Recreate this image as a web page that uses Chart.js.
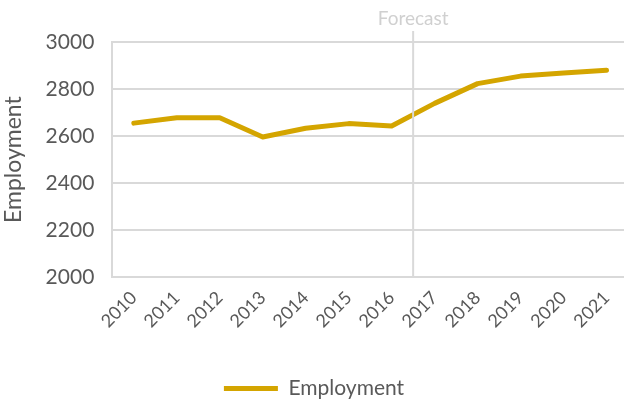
<!DOCTYPE html>
<html>
<head>
<meta charset="utf-8">
<script src="https://cdn.jsdelivr.net/npm/chart.js@4"></script>
<style>
  html, body { margin: 0; padding: 0; background: #fff; overflow: hidden; }
  /* plot runs off the right edge in the original, so the canvas is a bit wider than the window */
  #wrap { width: 628px; height: 401px; }
</style>
</head>
<body>
<div id="wrap"><canvas id="employmentChart"></canvas></div>
<script>
// Data
const years = ['2010', '2011', '2012', '2013', '2014', '2015', '2016', '2017', '2018', '2019', '2020', '2021'];
const employment = [2655, 2678, 2678, 2596, 2633, 2653, 2643, 2739, 2823, 2855, 2868, 2880];
const forecastFrom = '2017';

const textGray = '#595959';
const gridGray = '#d9d9d9';
const gold = '#d4a500';
const fontFamily = 'Lato, "Open Sans", sans-serif';

// Vertical line + "Forecast" label between the last actual and the first forecast year
const forecastMarker = {
    id: 'forecastMarker',
    afterDraw(chart) {
        const x = chart.scales.x;
        const idx = years.indexOf(forecastFrom);
        const px = (x.getPixelForValue(idx - 1) + x.getPixelForValue(idx)) / 2;
        const ctx = chart.ctx;
        ctx.save();
        ctx.strokeStyle = gridGray;
        ctx.lineWidth = 2;
        ctx.beginPath();
        ctx.moveTo(px, chart.chartArea.top - 11);
        ctx.lineTo(px, chart.chartArea.bottom);
        ctx.stroke();
        ctx.fillStyle = '#d0d0d0';
        ctx.font = '19px ' + fontFamily;
        ctx.textAlign = 'center';
        ctx.textBaseline = 'middle';
        ctx.fillText('Forecast', px, chart.chartArea.top - 23);
        ctx.restore();
    }
};

new Chart(document.getElementById('employmentChart'), {
    type: 'line',
    data: {
        labels: years,
        datasets: [{
            label: 'Employment',
            data: employment,
            borderColor: gold,
            backgroundColor: gold,
            borderWidth: 5,
            borderCapStyle: 'round',
            borderJoinStyle: 'round',
            pointRadius: 0,
            tension: 0
        }]
    },
    options: {
        responsive: true,
        maintainAspectRatio: false,
        animation: false,
        layout: { padding: { top: 42, right: 0, left: 0, bottom: -8 } },
        plugins: {
            legend: {
                position: 'bottom',
                labels: {
                    usePointStyle: true,
                    pointStyle: 'line',
                    pointStyleWidth: 54,
                    color: textGray,
                    padding: 4,
                    font: { family: fontFamily, size: 21 }
                }
            },
            tooltip: { enabled: false }
        },
        scales: {
            x: {
                offset: true,
                grid: { display: false, drawTicks: false },
                border: { display: false },
                ticks: {
                    color: textGray,
                    minRotation: 45,
                    maxRotation: 45,
                    padding: 10,
                    font: { family: fontFamily, size: 18 }
                },
                afterFit(scale) {
                    // room between the year labels and the legend, and no extra right padding
                    scale.height += 32;
                    scale.paddingRight = 0;
                }
            },
            y: {
                min: 2000,
                max: 3000,
                title: {
                    display: true,
                    text: 'Employment',
                    color: textGray,
                    padding: { top: 0, bottom: 0 },
                    font: { family: fontFamily, size: 23 }
                },
                grid: { color: gridGray, lineWidth: 2, drawTicks: false },
                border: { display: true, color: gridGray, width: 2 },
                ticks: {
                    stepSize: 200,
                    color: textGray,
                    padding: 18,
                    font: { family: fontFamily, size: 21 },
                    callback: (v) => String(v)
                }
            }
        }
    },
    plugins: [forecastMarker]
});
</script>
</body>
</html>
